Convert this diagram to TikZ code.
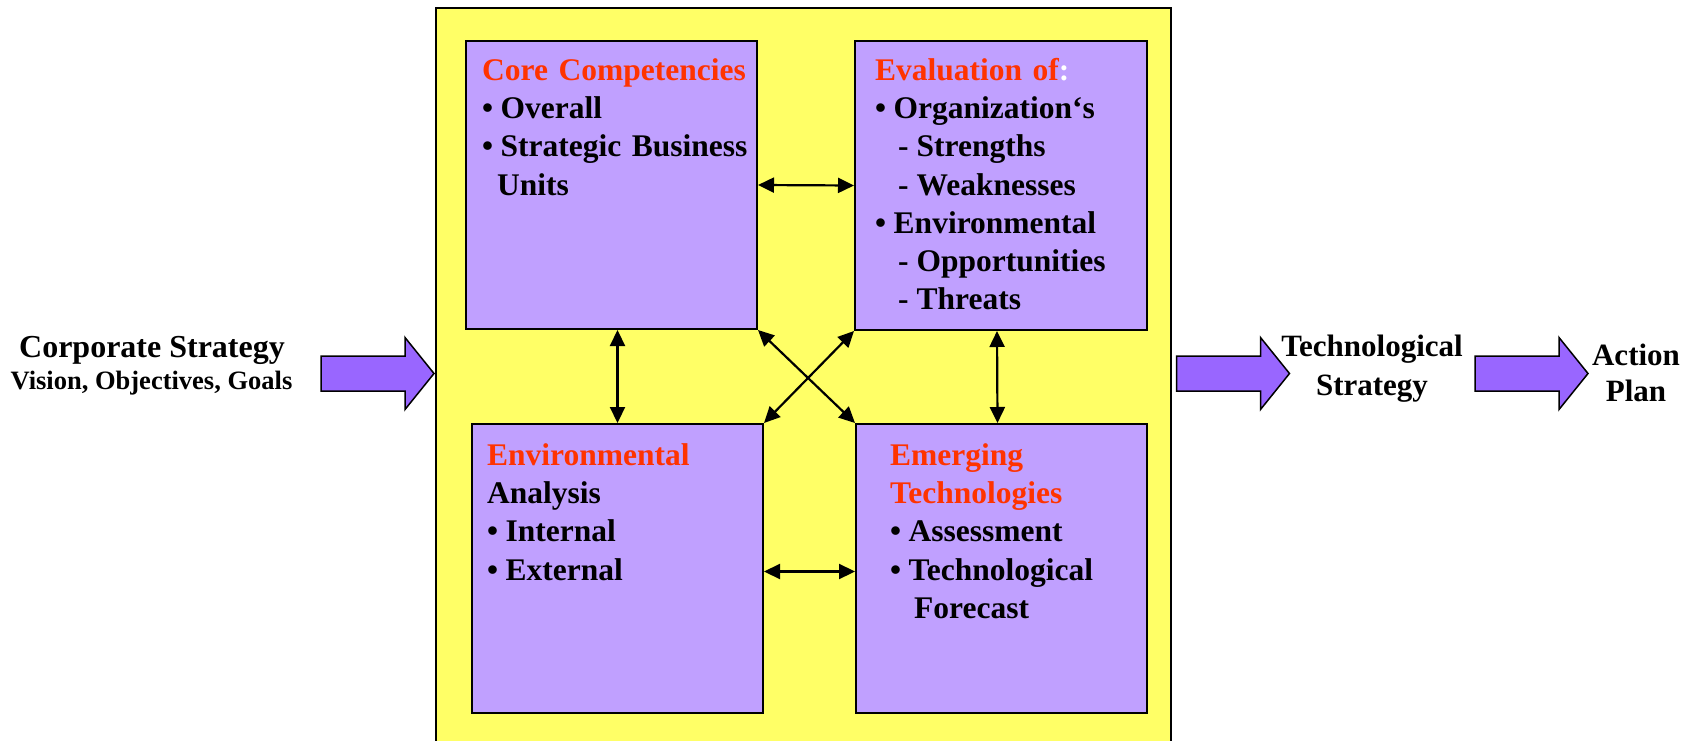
\documentclass[tikz,border=0pt]{standalone}
\usepackage{fontspec}
\setmainfont{Liberation Serif}
\usetikzlibrary{arrows.meta,calc}
\definecolor{boxfill}{RGB}{192,160,255}
\definecolor{canvas}{RGB}{255,255,102}
\definecolor{fatfill}{RGB}{153,102,255}
\definecolor{headline}{RGB}{255,51,0}

\tikzset{
	panel/.style={draw=black, line width=2pt, fill=boxfill, inner sep=0pt, anchor=north west},
	paneltext/.style={anchor=north west, inner sep=0pt, text width=300pt, align=left, font=\fontsize{31.5}{38.3}\selectfont\bfseries},
	outtext/.style={inner sep=0pt, text width=200pt, align=center, anchor=north},
	link/.style={line width=2.2pt, {Triangle[length=16pt,width=15pt]}-{Triangle[length=16pt,width=15pt]}},
	fatarrow/.style={draw=black, line width=1.5pt, fill=fatfill, line join=miter},
}
% bullet and dash with a tight gap
\newcommand{\itm}{•\hspace{7.5pt}}
\newcommand{\sub}{\hspace*{23pt}-\hspace{8pt}}
% tail centre of a fat block arrow
\newcommand{\fatarrow}[1]{\draw[fatarrow] (#1) ++(0,-17.5) -- ++(84,0) -- ++(0,-18.5) -- ++(29,36) -- ++(-29,36) -- ++(0,-18.5) -- ++(-84,0) -- cycle;}

\begin{document}
\begin{tikzpicture}[x=1pt, y=-1pt]
	\useasboundingbox (0,0) rectangle (1698,741);

	% yellow frame
	\draw[line width=2pt, fill=canvas] (436,8) rectangle (1171,745);

	\node[panel, minimum width=291pt, minimum height=288pt] (core) at (465,40) {};
	\node[panel, minimum width=292pt, minimum height=289pt] (eval) at (854,40) {};
	\node[panel, minimum width=291pt, minimum height=289pt] (env) at (471,423) {};
	\node[panel, minimum width=291pt, minimum height=289pt] (emerg) at (855,423) {};

	\node[paneltext] (coretxt) at (482,54) {\rule{0pt}{26pt}{\color{headline}Core Competencies}\\
		\itm Overall\\
		\itm Strategic Business\\
		\hspace*{15pt}Units};
	\node[paneltext] (evaltxt) at (875,54) {\rule{0pt}{26pt}{\color{headline}Evaluation of}{\color{white}:}\\
		\itm Organization‘s\\
		\sub Strengths\\
		\sub Weaknesses\\
		\itm Environmental\\
		\sub Opportunities\\
		\sub Threats};
	\node[paneltext] (envtxt) at (487,439) {\rule{0pt}{26pt}{\color{headline}Environmental}\\
		Analysis\\
		\itm Internal\\
		\itm External};
	\node[paneltext] (emergtxt) at (890,439) {\rule{0pt}{26pt}{\color{headline}Emerging}\\
		{\color{headline}Technologies}\\
		\itm Assessment\\
		\itm Technological\\
		\hspace*{24pt}Forecast};

	\draw[link] (core.east) -- (eval.west);
	\draw[link] ($(env.east)+(0,3)$) -- ($(emerg.west)+(0,3)$);
	\draw[link] (core.south -| env.north) -- (env.north);
	\draw[link] ($(eval.south)+(-4,0)$) -- ($(emerg.north)+(-4,0)$);
	\draw[link] (core.south east) -- (emerg.north west);
	\draw[link] (eval.south west) -- (env.north east);

	% input and output
	\node[anchor=base, inner sep=0pt, font=\fontsize{32}{38}\selectfont\bfseries] (corp) at (152,357.7) {Corporate Strategy};
	\node[anchor=base, inner sep=0pt, font=\fontsize{26.5}{31}\selectfont\bfseries] (corpsub) at (151.5,389) {Vision, Objectives, Goals};
	\fatarrow{321,373.5}
	\fatarrow{1176.5,373.5}
	\fatarrow{1475,373.5}
	\node[outtext, font=\fontsize{31}{38.3}\selectfont\bfseries] (techstrat) at (1372,331.7) {\rule{0pt}{25pt}Technological\\Strategy};
	\node[outtext, font=\fontsize{31}{36.7}\selectfont\bfseries] (actplan) at (1636,340) {\rule{0pt}{25pt}Action\\Plan};

\end{tikzpicture}
\end{document}
